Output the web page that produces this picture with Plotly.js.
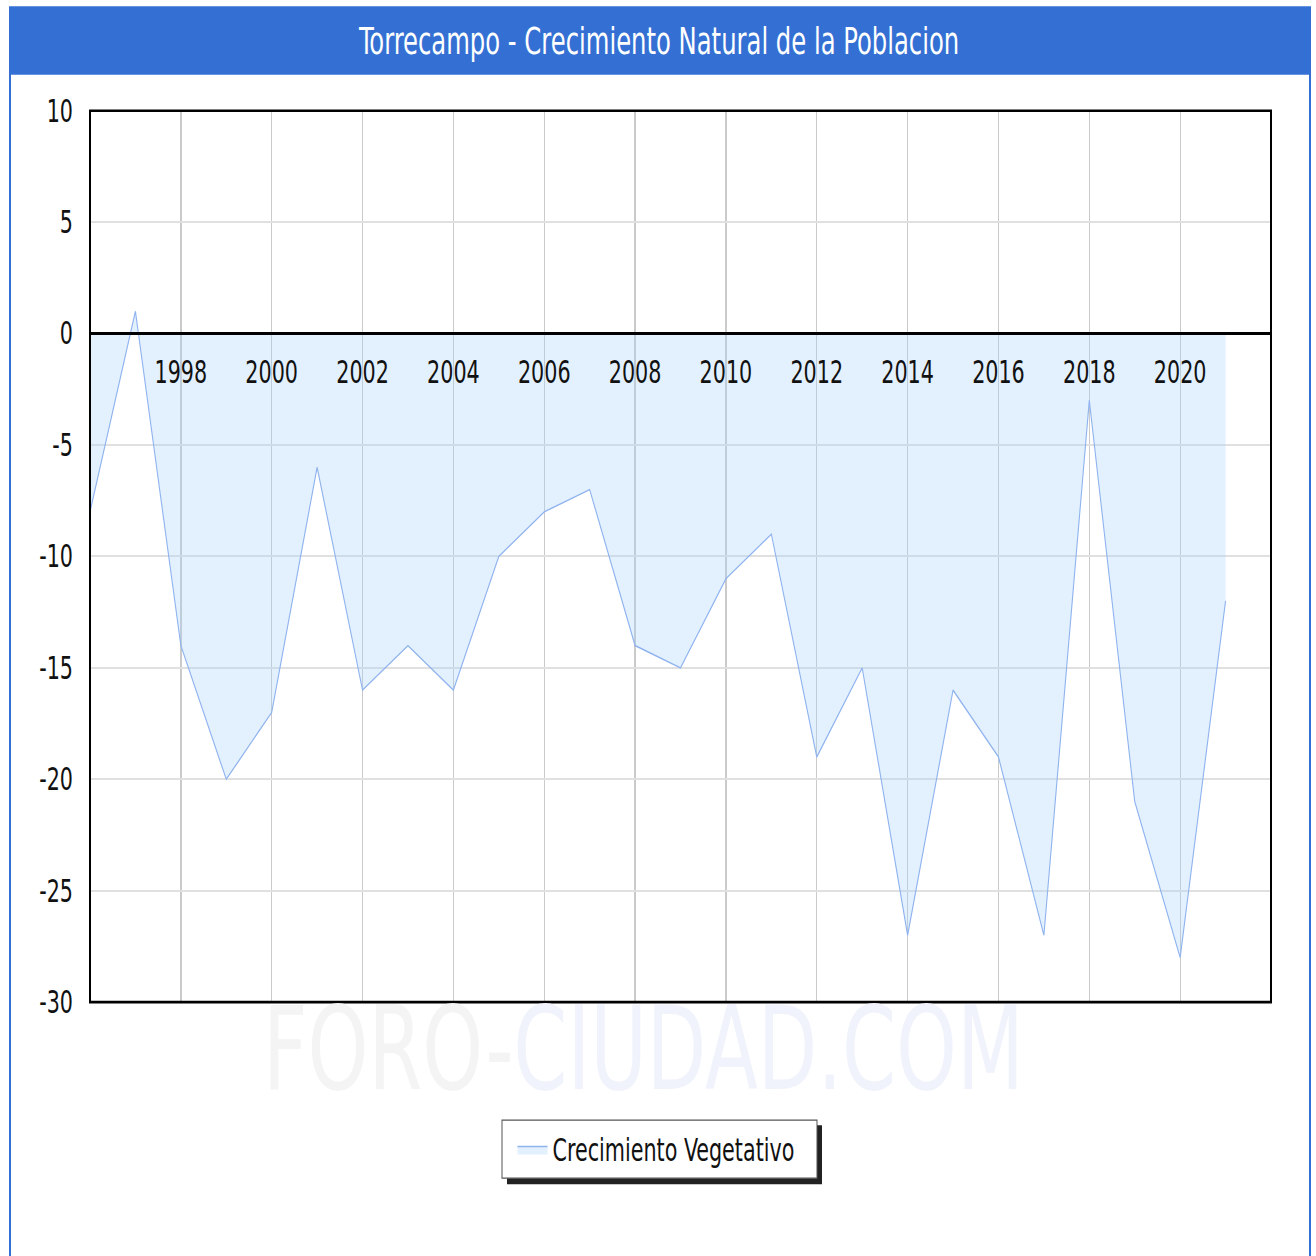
<!DOCTYPE html>
<html>
<head>
<meta charset="utf-8">
<script src="https://cdn.plot.ly/plotly-3.0.1.min.js"></script>
<style>
html{margin:0;padding:0;background:#fff;overflow:hidden;}
body{margin:0;padding:0;background:#fff;width:1316px;height:1256px;}
#chart{width:1316px;height:930px;transform:scaleY(1.35054);transform-origin:0 0;}
</style>
</head>
<body>
<div id="chart"></div>
<script>
const years = [1996,1997,1998,1999,2000,2001,2002,2003,2004,2005,2006,2007,2008,2009,2010,2011,2012,2013,2014,2015,2016,2017,2018,2019,2020,2021];
const crecimiento = [-8,1,-14,-20,-17,-6,-16,-14,-16,-10,-8,-7,-14,-15,-11,-9,-19,-15,-27,-16,-19,-27,-3,-21,-28,-12];
const xTickYears = [1998,2000,2002,2004,2006,2008,2010,2012,2014,2016,2018,2020];
const yTickVals = [10,5,0,-5,-10,-15,-20,-25,-30];
const titleText = 'Torrecampo - Crecimiento Natural de la Poblacion';
const seriesName = 'Crecimiento Vegetativo';
const watermark = '<span style="color:#f4f4f4">FORO-</span><span style="color:#f1f3fc">CIUDAD.COM</span>';

// reference picture is 1316x1256; the chart is drawn at 1316x930 and stretched vertically
const W = 1316, HREF = 1256, H = 930, S = HREF / H;
const L = 90, R = 1271, T = 111, B = 1002;           // plot area in reference pixels
const px2x = p => (p - L) / (R - L);
const px2y = p => (B - p) / (B - T);
const yRange = [-30, 10];
const FONT = '"DejaVu Sans Condensed", "DejaVu Sans", sans-serif';

const trace = {
  x: years, y: crecimiento, type: 'scatter', mode: 'lines',
  name: seriesName, fill: 'tozeroy',
  fillcolor: 'rgba(170,208,250,0.33)',
  line: {color: '#8fb3ef', width: 1.1}
};

const layout = {
  width: W, height: H,
  margin: {l: L, r: W - R, t: T / S, b: (HREF - B) / S},
  paper_bgcolor: '#ffffff', plot_bgcolor: '#ffffff',
  font: {family: FONT, size: 22, color: '#111'},
  showlegend: true,
  legend: {
    x: px2x(656), xanchor: 'center', y: px2y(1149), yanchor: 'middle',
    bgcolor: 'rgba(0,0,0,0)', borderwidth: 0,
    font: {family: FONT, size: 23, color: '#111'}
  },
  xaxis: {
    range: [1996, 2022], tickvals: xTickYears, ticktext: xTickYears.map(String),
    showgrid: true, gridcolor: '#cacaca', gridwidth: 1.3,
    zeroline: false, showline: true, linecolor: '#000', linewidth: 2,
    anchor: 'free', position: (0 - yRange[0]) / (yRange[1] - yRange[0]),
    ticks: '', ticklabelstandoff: 8,
    tickfont: {family: FONT, size: 23, color: '#111'}
  },
  yaxis: {
    range: yRange, tickvals: yTickVals, ticktext: yTickVals.map(String),
    showgrid: true, gridcolor: '#e0e0e0', gridwidth: 1.5,
    zeroline: false, showline: false, ticks: '', ticklabelstandoff: 16,
    tickfont: {family: FONT, size: 23, color: '#111'}
  },
  shapes: [
    {type: 'rect', xref: 'paper', yref: 'paper', x0: px2x(10), x1: px2x(1310), y0: px2y(1262), y1: px2y(8),
     line: {color: '#3470d4', width: 2}, fillcolor: 'rgba(0,0,0,0)', layer: 'below'},
    {type: 'rect', xref: 'paper', yref: 'paper', x0: px2x(10), x1: px2x(1310), y0: px2y(75), y1: px2y(8),
     line: {width: 0}, fillcolor: '#3470d4', layer: 'below'},
    {type: 'rect', xref: 'paper', yref: 'paper', x0: 0, x1: 1, y0: 0, y1: 1,
     line: {color: '#000', width: 2}, fillcolor: 'rgba(0,0,0,0)', layer: 'above'},
    {type: 'rect', xref: 'paper', yref: 'paper', x0: px2x(507), x1: px2x(822), y0: px2y(1184), y1: px2y(1125),
     line: {width: 0}, fillcolor: '#222', layer: 'above'},
    {type: 'rect', xref: 'paper', yref: 'paper', x0: px2x(502), x1: px2x(817), y0: px2y(1178), y1: px2y(1120),
     line: {color: '#555', width: 1}, fillcolor: '#ffffff', layer: 'above'}
  ],
  annotations: [
    {xref: 'paper', yref: 'paper', x: px2x(658), y: px2y(42), xanchor: 'center', yanchor: 'middle',
     text: titleText, showarrow: false, font: {family: FONT, size: 27, color: '#ffffff'}},
    {xref: 'paper', yref: 'paper', x: px2x(643), y: px2y(1048), xanchor: 'center', yanchor: 'middle',
     text: watermark, showarrow: false, font: {family: FONT, size: 86, color: '#f1f3fc'}}
  ]
};

Plotly.newPlot('chart', [trace], layout, {displayModeBar: false, staticPlot: true});
</script>
</body>
</html>
